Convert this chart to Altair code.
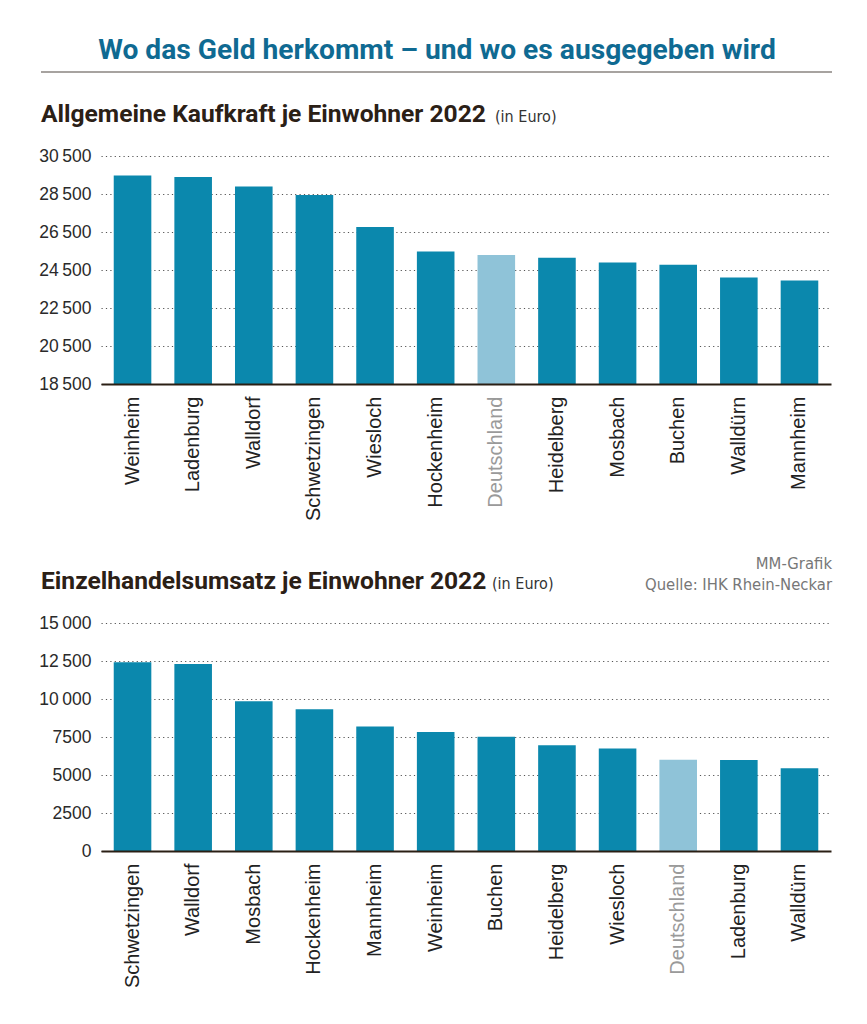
import altair as alt
import pandas as pd

# ---------------- data ----------------
kk_cities = ["Weinheim", "Ladenburg", "Walldorf", "Schwetzingen", "Wiesloch", "Hockenheim",
             "Deutschland", "Heidelberg", "Mosbach", "Buchen", "Walldürn", "Mannheim"]
kk_values = [29470, 29390, 28900, 28450, 26760, 25480, 25290, 25140, 24890, 24770, 24110, 23950]
kk_ticks = [18500, 20500, 22500, 24500, 26500, 28500, 30500]

eh_cities = ["Schwetzingen", "Walldorf", "Mosbach", "Hockenheim", "Mannheim", "Weinheim",
             "Buchen", "Heidelberg", "Wiesloch", "Deutschland", "Ladenburg", "Walldürn"]
eh_values = [12410, 12300, 9850, 9320, 8190, 7830, 7520, 6950, 6750, 6000, 5980, 5440]
eh_ticks = [0, 2500, 5000, 7500, 10000, 12500, 15000]

main_title = "Wo das Geld herkommt – und wo es ausgegeben wird"
sub1 = "Allgemeine Kaufkraft je Einwohner 2022"
sub2 = "Einzelhandelsumsatz je Einwohner 2022"
unit = "(in Euro)"
credit1 = "MM-Grafik"
credit2 = "Quelle: IHK Rhein-Neckar"

HEAD = "Roboto, Liberation Sans, sans-serif"
COND = "DejaVu Sans Condensed, Liberation Sans, sans-serif"
SANS = "Liberation Sans, Arial, Helvetica, sans-serif"
BAR = "#0b88ad"
BAR_DE = "#8fc3d8"
DARK = "#2b2016"

W, H = 730, 228


def make_df(cities, values):
    return pd.DataFrame({
        "city": cities,
        "value": values,
        "kind": ["de" if c == "Deutschland" else "city" for c in cities],
    })


def bars(df, ticks):
    lo, hi = ticks[0], ticks[-1]
    return alt.Chart(df).mark_bar().encode(
        x=alt.X("city:N", sort=None, title=None,
                scale=alt.Scale(paddingInner=0.38, paddingOuter=0.21),
                axis=alt.Axis(labelAngle=-90, labelFont=SANS, labelFontSize=20,
                              labelColor=alt.expr("datum.value == 'Deutschland' ? '#9a9a9a' : '#222222'"),
                              labelPadding=12, ticks=False, grid=False,
                              domainColor="#2a1f14", domainWidth=2.2, zindex=1)),
        y=alt.Y("value:Q", title=None,
                scale=alt.Scale(domain=[lo, hi], nice=False, zero=False),
                axis=alt.Axis(values=ticks, grid=True, gridDash=[1.2, 3.2], gridColor="#555555",
                              gridWidth=1.2, domain=False, ticks=False, labelPadding=10,
                              labelFont=SANS, labelFontSize=17.5, labelColor="#2a2a2a",
                              labelExpr="datum.value >= 10000 ? replace(format(datum.value, ','), ',', '\u2009') : format(datum.value, 'd')")),
        y2=alt.datum(lo),
        color=alt.Color("kind:N", legend=None,
                        scale=alt.Scale(domain=["city", "de"], range=[BAR, BAR_DE])),
    )


def label(text, x, y, size, color, weight="normal", align="left", font=HEAD):
    return alt.Chart(pd.DataFrame({"t": [text]})).mark_text(
        align=align, baseline="alphabetic", fontSize=size, font=font,
        fontWeight=weight, color=color,
    ).encode(text="t:N", x=alt.value(x), y=alt.value(y))


rule = alt.Chart(pd.DataFrame({"a": [0]})).mark_rule(color="#8a8580", strokeWidth=1.5).encode(
    x=alt.value(-60), x2=alt.value(731), y=alt.value(-84))

top = alt.layer(
    bars(make_df(kk_cities, kk_values), kk_ticks),
    rule,
    label(main_title, 336, -97, 28.2, "#0f6a92", "bold", "center"),
    label(sub1, -60, -34, 24.6, DARK, "bold"),
    label(unit, 394, -34, 16, "#333333", font=COND),
).properties(width=W, height=H)

bottom = alt.layer(
    bars(make_df(eh_cities, eh_values), eh_ticks),
    label(sub2, -60, -34, 24.6, DARK, "bold"),
    label(unit, 391, -34, 16, "#333333", font=COND),
    label(credit1, 731, -54, 16.5, "#777777", "normal", "right", font=COND),
    label(credit2, 731, -33, 16.5, "#777777", "normal", "right", font=COND),
).properties(width=W, height=H)

chart = alt.vconcat(top, bottom, spacing=239, bounds="flush").properties(
    padding={"left": 30, "top": 28, "right": 10, "bottom": 10},
    background="white",
).configure_view(stroke=None)

chart.save("out.html", embed_options={"renderer": "svg", "actions": False})
